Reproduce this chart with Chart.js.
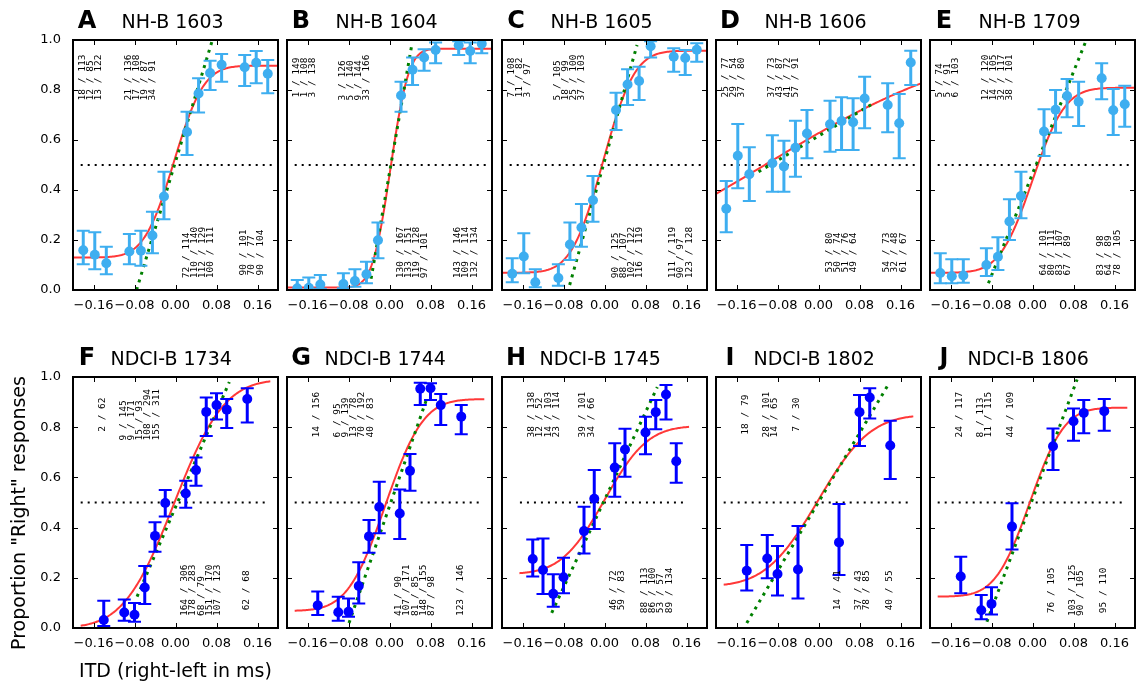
<!DOCTYPE html>
<html>
<head>
<meta charset="utf-8">
<script src="https://cdn.jsdelivr.net/npm/chart.js@4.4.0/dist/chart.umd.min.js"></script>
<style>
body { margin:0; background:#fff; width:1136px; height:686px; overflow:hidden; position:relative; }
canvas { position:absolute; }
</style>
</head>
<body>
<script>
// ITD values (ms) used by each listener group
var itdNH = [-0.18, -0.1575, -0.135, -0.09, -0.0675, -0.045, -0.0225, 0.0225, 0.045, 0.0675, 0.09, 0.135, 0.1575, 0.18];
var itdFG = [-0.14, -0.10, -0.08, -0.06, -0.04, -0.02, 0.02, 0.04, 0.06, 0.08, 0.10, 0.14];
var itdH = [-0.14, -0.12, -0.10, -0.08, -0.04, -0.02, 0.02, 0.04, 0.08, 0.10, 0.12, 0.14];
var itdIJ = [-0.14, -0.10, -0.08, -0.04, 0.04, 0.08, 0.10, 0.14];
var xTicks = [-0.16, -0.08, 0, 0.08, 0.16];
var yTicks = [0, 0.2, 0.4, 0.6, 0.8, 1.0];

// x extent of fitted curve and of the 50% line
var curveNH = [-0.2, 0.2], curveNDCI = [-0.185, 0.185], curveH = [-0.166, 0.165];
var midNH = [-0.185, 0.193], midNDCI = [-0.185, 0.18], midH = [-0.165, 0.162];

// A  NH-B 1603
var propA = [0.159, 0.141, 0.107, 0.154, 0.157, 0.218, 0.374, 0.632, 0.786, 0.868, 0.901, 0.891, 0.909, 0.865];
var hiA = [0.237, 0.231, 0.173, 0.224, 0.237, 0.313, 0.473, 0.713, 0.847, 0.917, 0.944, 0.94, 0.956, 0.92];
var loA = [0.103, 0.083, 0.063, 0.103, 0.097, 0.147, 0.283, 0.54, 0.71, 0.80, 0.833, 0.816, 0.827, 0.787];
var rightA = [18, 12, 13, 21, 17, 19, 34, 72, 110, 112, 100, 90, 70, 90];
var trialsA = [113, 85, 122, 136, 108, 87, 91, 114, 140, 129, 111, 101, 77, 104];
var groupsA = [3, 4, 4, 3];
var fitA = [0.13, 0.897, -0.003, 0.046];      // floor, ceiling, mu, sigma
var slopeA = [-0.076, 0.0, 0.072, 1.0];       // x0, y0, x1, y1

// B  NH-B 1604
var propB = [0.007, 0.009, 0.022, 0.024, 0.036, 0.063, 0.199, 0.778, 0.881, 0.930, 0.960, 0.979, 0.956, 0.985];
var hiB = [0.04, 0.05, 0.06, 0.067, 0.083, 0.113, 0.27, 0.833, 0.93, 0.963, 0.99, 0.995, 0.99, 1.0];
var loB = [0.0, 0.0, 0.005, 0.007, 0.013, 0.027, 0.127, 0.713, 0.82, 0.877, 0.907, 0.94, 0.907, 0.947];
var rightB = [1, 1, 3, 3, 5, 9, 33, 130, 133, 119, 97, 143, 109, 132];
var trialsB = [149, 108, 138, 126, 140, 144, 166, 167, 151, 128, 101, 146, 114, 134];
var groupsB = [3, 4, 4, 3];
var fitB = [0.01, 0.965, 0.002, 0.028];
var slopeB = [-0.036, 0.045, 0.043, 0.975];

// C  NH-B 1605
var propC = [0.065, 0.134, 0.031, 0.048, 0.182, 0.25, 0.359, 0.72, 0.822, 0.836, 0.975, 0.933, 0.928, 0.961];
var hiC = [0.127, 0.227, 0.083, 0.103, 0.27, 0.344, 0.456, 0.789, 0.883, 0.893, 0.995, 0.967, 0.96, 0.987];
var loC = [0.031, 0.067, 0.011, 0.017, 0.12, 0.173, 0.273, 0.64, 0.74, 0.76, 0.93, 0.873, 0.86, 0.913];
var rightC = [7, 11, 3, 5, 18, 25, 37, 90, 88, 102, 116, 111, 90, 123];
var trialsC = [108, 82, 97, 105, 99, 100, 103, 125, 107, 122, 119, 119, 97, 128];
var groupsC = [3, 4, 4, 3];
var fitC = [0.069, 0.957, -0.003, 0.0485];
var slopeC = [-0.068, 0.02, 0.0635, 0.98];

// D  NH-B 1606
var propD = [0.325, 0.537, 0.463, 0.507, 0.494, 0.569, 0.626, 0.663, 0.676, 0.671, 0.766, 0.740, 0.667, 0.910];
var hiD = [0.436, 0.664, 0.571, 0.619, 0.597, 0.677, 0.72, 0.757, 0.771, 0.767, 0.853, 0.827, 0.784, 0.957];
var loD = [0.231, 0.407, 0.356, 0.393, 0.393, 0.453, 0.527, 0.553, 0.56, 0.56, 0.647, 0.631, 0.527, 0.82];
var rightD = [25, 29, 37, 37, 43, 41, 57, 53, 50, 51, 49, 54, 32, 61];
var trialsD = [77, 54, 80, 73, 87, 72, 91, 80, 74, 76, 64, 73, 48, 67];
var groupsD = [3, 4, 4, 3];
var fitD = [0.0, 1.0, -0.105, 0.324];
var slopeD = [-0.117, 0.473, 0.104, 0.743];

// E  NH-B 1709
var propE = [0.068, 0.055, 0.058, 0.100, 0.133, 0.274, 0.376, 0.634, 0.721, 0.776, 0.753, 0.847, 0.719, 0.743];
var hiE = [0.147, 0.123, 0.123, 0.167, 0.211, 0.363, 0.473, 0.723, 0.80, 0.844, 0.833, 0.907, 0.804, 0.817];
var loE = [0.027, 0.027, 0.029, 0.056, 0.08, 0.20, 0.287, 0.536, 0.629, 0.691, 0.656, 0.763, 0.62, 0.653];
var rightE = [5, 5, 6, 12, 14, 32, 38, 64, 80, 83, 67, 83, 64, 78];
var trialsE = [74, 91, 103, 120, 105, 117, 101, 101, 111, 107, 89, 98, 89, 105];
var groupsE = [3, 4, 4, 3];
var fitE = [0.069, 0.809, 0.0, 0.05];
var slopeE = [-0.086, 0.027, 0.105, 1.0];

// F  NDCI-B 1734
var propF = [0.032, 0.062, 0.053, 0.161, 0.367, 0.498, 0.536, 0.629, 0.861, 0.888, 0.870, 0.912];
var hiF = [0.109, 0.114, 0.10, 0.247, 0.421, 0.55, 0.587, 0.679, 0.918, 0.935, 0.912, 0.955];
var loF = [0.008, 0.029, 0.025, 0.096, 0.304, 0.444, 0.479, 0.567, 0.765, 0.831, 0.797, 0.819];
var rightF = [2, 9, 9, 15, 108, 155, 164, 178, 68, 151, 107, 62];
var trialsF = [62, 145, 171, 93, 294, 311, 306, 283, 79, 170, 123, 68];
var groupsF = [1, 5, 5, 1];
var fitF = [0.0, 0.99, -0.003, 0.077];
var slopeF = [-0.075, 0.125, 0.105, 0.98];

// G  NDCI-B 1744
var propG = [0.090, 0.063, 0.065, 0.167, 0.365, 0.482, 0.456, 0.626, 0.953, 0.955, 0.888, 0.842];
var hiG = [0.145, 0.125, 0.118, 0.262, 0.43, 0.583, 0.552, 0.693, 0.977, 0.975, 0.932, 0.888];
var loG = [0.052, 0.029, 0.045, 0.098, 0.30, 0.377, 0.355, 0.547, 0.888, 0.908, 0.809, 0.772];
var rightG = [14, 6, 9, 13, 70, 40, 41, 107, 81, 148, 87, 123];
var trialsG = [156, 95, 139, 78, 192, 83, 90, 171, 85, 155, 98, 146];
var groupsG = [1, 5, 5, 1];
var fitG = [0.068, 0.912, -0.008, 0.058];
var slopeG = [-0.079, 0.02, 0.073, 0.915];

// H  NDCI-B 1745
var propH = [0.275, 0.231, 0.136, 0.202, 0.386, 0.515, 0.639, 0.711, 0.779, 0.860, 0.930, 0.664];
var hiH = [0.353, 0.357, 0.214, 0.28, 0.483, 0.629, 0.736, 0.794, 0.842, 0.908, 0.968, 0.736];
var loH = [0.205, 0.135, 0.085, 0.138, 0.297, 0.394, 0.523, 0.603, 0.692, 0.792, 0.831, 0.579];
var rightH = [38, 12, 14, 23, 39, 34, 46, 59, 88, 86, 53, 89];
var trialsH = [138, 52, 103, 114, 101, 66, 72, 83, 113, 100, 57, 134];
var groupsH = [4, 2, 2, 4];
var fitH = [0.215, 0.805, 0.0, 0.066];
var slopeH = [-0.103, 0.06, 0.103, 0.96];

// I  NDCI-B 1802
var propI = [0.228, 0.277, 0.215, 0.233, 0.341, 0.860, 0.918, 0.727];
var hiI = [0.331, 0.371, 0.327, 0.406, 0.494, 0.928, 0.955, 0.826];
var loI = [0.149, 0.198, 0.129, 0.118, 0.211, 0.725, 0.835, 0.594];
var rightI = [18, 28, 14, 7, 14, 37, 78, 40];
var trialsI = [79, 101, 65, 30, 41, 43, 85, 55];
var groupsI = [1, 2, 1, 1, 2, 1];
var fitI = [0.165, 0.85, -0.001, 0.08];
var slopeI = [-0.14, 0.02, 0.138, 0.976];

// J  NDCI-B 1806
var propJ = [0.205, 0.071, 0.096, 0.404, 0.724, 0.824, 0.857, 0.864];
var hiJ = [0.284, 0.131, 0.162, 0.497, 0.795, 0.875, 0.908, 0.912];
var loJ = [0.138, 0.035, 0.054, 0.313, 0.629, 0.746, 0.776, 0.786];
var rightJ = [24, 8, 11, 44, 76, 103, 90, 95];
var trialsJ = [117, 113, 115, 109, 105, 125, 105, 110];
var groupsJ = [1, 2, 1, 1, 2, 1];
var fitJ = [0.125, 0.878, -0.005, 0.0527];
var slopeJ = [-0.089, 0.025, 0.087, 0.99];

var skyBlue = 'rgb(62,174,240)';
var pureBlue = '#0000ff';

var panels = [
	{tag:'A', name:'NH-B 1603', row:0, col:0, x:itdNH, y:propA, lo:loA, hi:hiA, k:rightA, n:trialsA, groups:groupsA, fit:fitA, slope:slopeA, curve:curveNH, mid:midNH, color:skyBlue},
	{tag:'B', name:'NH-B 1604', row:0, col:1, x:itdNH, y:propB, lo:loB, hi:hiB, k:rightB, n:trialsB, groups:groupsB, fit:fitB, slope:slopeB, curve:curveNH, mid:midNH, color:skyBlue},
	{tag:'C', name:'NH-B 1605', row:0, col:2, x:itdNH, y:propC, lo:loC, hi:hiC, k:rightC, n:trialsC, groups:groupsC, fit:fitC, slope:slopeC, curve:curveNH, mid:midNH, color:skyBlue},
	{tag:'D', name:'NH-B 1606', row:0, col:3, x:itdNH, y:propD, lo:loD, hi:hiD, k:rightD, n:trialsD, groups:groupsD, fit:fitD, slope:slopeD, curve:curveNH, mid:midNH, color:skyBlue},
	{tag:'E', name:'NH-B 1709', row:0, col:4, x:itdNH, y:propE, lo:loE, hi:hiE, k:rightE, n:trialsE, groups:groupsE, fit:fitE, slope:slopeE, curve:curveNH, mid:midNH, color:skyBlue},
	{tag:'F', name:'NDCI-B 1734', row:1, col:0, x:itdFG, y:propF, lo:loF, hi:hiF, k:rightF, n:trialsF, groups:groupsF, fit:fitF, slope:slopeF, curve:curveNDCI, mid:midNDCI, color:pureBlue},
	{tag:'G', name:'NDCI-B 1744', row:1, col:1, x:itdFG, y:propG, lo:loG, hi:hiG, k:rightG, n:trialsG, groups:groupsG, fit:fitG, slope:slopeG, curve:curveNDCI, mid:midNDCI, color:pureBlue},
	{tag:'H', name:'NDCI-B 1745', row:1, col:2, x:itdH, y:propH, lo:loH, hi:hiH, k:rightH, n:trialsH, groups:groupsH, fit:fitH, slope:slopeH, curve:curveH, mid:midH, color:pureBlue},
	{tag:'I', name:'NDCI-B 1802', row:1, col:3, x:itdIJ, y:propI, lo:loI, hi:hiI, k:rightI, n:trialsI, groups:groupsI, fit:fitI, slope:slopeI, curve:curveNDCI, mid:midNDCI, color:pureBlue},
	{tag:'J', name:'NDCI-B 1806', row:1, col:4, x:itdIJ, y:propJ, lo:loJ, hi:hiJ, k:rightJ, n:trialsJ, groups:groupsJ, fit:fitJ, slope:slopeJ, curve:curveNDCI, mid:midNDCI, color:pureBlue}
];

// page layout
var colLeft = [73, 287, 502, 716, 930];
var rowTop = [40, 377];
var plotH = [250, 251];
var CW = 286, CH = 350;

function phi(z){
	var t = 1/(1 + 0.2316419*Math.abs(z));
	var d = 0.3989423*Math.exp(-z*z/2);
	var p = d*t*(0.3193815 + t*(-0.3565638 + t*(1.781478 + t*(-1.821256 + t*1.330274))));
	return z > 0 ? 1 - p : p;
}

function fitCurve(p){
	var pts = [];
	var f = p.fit;
	for(var i=0;i<=160;i++){
		var x = p.curve[0] + (p.curve[1]-p.curve[0])*i/160;
		pts.push({x:x, y:f[0] + (f[1]-f[0])*phi((x-f[2])/f[3])});
	}
	return pts;
}

function fmtX(v){
	if(Math.abs(v) < 1e-9) return '0.00';
	return (v < 0 ? '\u2212' : '') + Math.abs(v).toFixed(2);
}

var byCanvas = {};

function drawErrorBars(chart, p){
	var ctx = chart.ctx, xs = chart.scales.x, ys = chart.scales.y, a = chart.chartArea;
	ctx.save();
	ctx.beginPath();
	ctx.rect(a.left, a.top, a.right-a.left, a.bottom-a.top);
	ctx.clip();
	ctx.strokeStyle = p.color;
	for(var i=0;i<p.x.length;i++){
		var px = xs.getPixelForValue(p.x[i]);
		var t = ys.getPixelForValue(p.hi[i]);
		var b = ys.getPixelForValue(p.lo[i]);
		ctx.lineWidth = 3;
		ctx.beginPath(); ctx.moveTo(px, t); ctx.lineTo(px, b); ctx.stroke();
		ctx.lineWidth = 2;
		ctx.beginPath();
		ctx.moveTo(px-6.5, t); ctx.lineTo(px+6.5, t);
		ctx.moveTo(px-6.5, b); ctx.lineTo(px+6.5, b);
		ctx.stroke();
	}
	ctx.restore();
}

function drawCounts(chart, p){
	var ctx = chart.ctx, xs = chart.scales.x, ys = chart.scales.y;
	ctx.save();
	ctx.font = '9.5px "DejaVu Sans Mono"';
	ctx.fillStyle = '#000';
	var start = 0;
	p.groups.forEach(function(size){
		var lines = [];
		for(var j=0;j<size;j++) lines.push(p.k[start+j] + ' / ' + p.n[start+j]);
		var longest = 0;
		lines.forEach(function(s){ longest = Math.max(longest, ctx.measureText(s).width); });
		var upper = p.x[start] < 0;
		var base = ys.getPixelForValue(upper ? 0.85 : 0.15) + longest/2;
		var x0 = xs.getPixelForValue(p.x[start]) - 1;
		lines.forEach(function(s, j){
			ctx.save();
			ctx.translate(x0 + j*8.2, base);
			ctx.rotate(-Math.PI/2);
			ctx.textAlign = 'left';
			ctx.textBaseline = 'middle';
			ctx.fillText(s, 0, 0);
			ctx.restore();
		});
		start += size;
	});
	ctx.restore();
}

var panelDecor = {
	id: 'panelDecor',
	beforeDatasetDraw: function(chart, args){
		if(args.index === 0) drawErrorBars(chart, byCanvas[chart.canvas.id]);
	},
	afterDraw: function(chart){
		var p = byCanvas[chart.canvas.id];
		var ctx = chart.ctx, a = chart.chartArea, xs = chart.scales.x, ys = chart.scales.y;
		drawCounts(chart, p);
		ctx.save();
		// inward ticks
		ctx.strokeStyle = '#000';
		ctx.lineWidth = 1;
		ctx.beginPath();
		xTicks.forEach(function(v){
			var px = Math.round(xs.getPixelForValue(v)) + 0.5;
			ctx.moveTo(px, a.bottom); ctx.lineTo(px, a.bottom-5);
			ctx.moveTo(px, a.top); ctx.lineTo(px, a.top+5);
		});
		yTicks.forEach(function(v){
			var py = Math.round(ys.getPixelForValue(v)) + 0.5;
			ctx.moveTo(a.left, py); ctx.lineTo(a.left+5, py);
			ctx.moveTo(a.right, py); ctx.lineTo(a.right-5, py);
		});
		ctx.stroke();
		// frame
		ctx.lineWidth = 2;
		ctx.strokeRect(a.left, a.top, a.right-a.left, a.bottom-a.top);
		// title
		ctx.fillStyle = '#000';
		ctx.textBaseline = 'alphabetic';
		ctx.textAlign = 'center';
		ctx.font = 'bold 24px "DejaVu Sans"';
		ctx.fillText(p.tag, a.left + 14, a.top - 12);
		ctx.textAlign = 'left';
		ctx.font = '19px "DejaVu Sans"';
		ctx.fillText(p.name, a.left + (p.row === 0 ? 48.5 : 37.5), a.top - 12);
		// axis titles on panel F
		if(p.tag === 'F'){
			ctx.font = '19px "DejaVu Sans"';
			ctx.textAlign = 'center';
			ctx.fillText('ITD (right-left in ms)', a.left + 102.5, a.bottom + 49);
			ctx.save();
			ctx.translate(20, 176);
			ctx.rotate(-Math.PI/2);
			ctx.textBaseline = 'middle';
			ctx.fillText('Proportion "Right" responses', 0, 0);
			ctx.restore();
		}
		ctx.restore();
	}
};

panels.forEach(function(p){
	var cv = document.createElement('canvas');
	cv.id = 'panel' + p.tag;
	cv.width = CW; cv.height = CH;
	cv.style.left = (colLeft[p.col] - 73) + 'px';
	cv.style.top = (rowTop[p.row] - 40) + 'px';
	document.body.appendChild(cv);
	byCanvas[cv.id] = p;

	var pts = p.x.map(function(x, i){ return {x:x, y:p.y[i]}; });
	var slopePts = [{x:p.slope[0], y:p.slope[1]}, {x:p.slope[2], y:p.slope[3]}];
	var midPts = [{x:p.mid[0], y:0.5}, {x:p.mid[1], y:0.5}];
	var showY = p.col === 0;

	new Chart(cv, {
		type: 'scatter',
		data: {
			datasets: [
				{data: pts, pointRadius: 5, pointBackgroundColor: p.color, pointBorderColor: p.color, pointBorderWidth: 0, showLine: false},
				{data: slopePts, showLine: true, borderColor: '#008000', borderWidth: 3, borderDash: [3, 5], pointRadius: 0},
				{data: fitCurve(p), showLine: true, borderColor: '#ff3838', borderWidth: 2, pointRadius: 0, tension: 0},
				{data: midPts, showLine: true, borderColor: '#000', borderWidth: 2, borderDash: [2, 5], pointRadius: 0}
			]
		},
		options: {
			responsive: false,
			animation: false,
			devicePixelRatio: 1,
			layout: {padding: {left: 33, top: 40, right: 8, bottom: CH - 40 - plotH[p.row] - 22}},
			plugins: {legend: {display: false}, tooltip: {enabled: false}},
			scales: {
				x: {
					type: 'linear', min: -0.2, max: 0.2,
					grid: {display: false, drawTicks: false},
					border: {display: false},
					afterBuildTicks: function(s){ s.ticks = xTicks.map(function(v){ return {value: v}; }); },
					afterFit: function(s){ s.height = 22; },
					ticks: {padding: 8, color: '#000', autoSkip: false, maxRotation: 0,
						font: {family: 'DejaVu Sans', size: 13}, callback: fmtX}
				},
				y: {
					type: 'linear', min: 0, max: 1,
					grid: {display: false, drawTicks: false},
					border: {display: false},
					afterBuildTicks: function(s){ s.ticks = yTicks.map(function(v){ return {value: v}; }); },
					afterFit: function(s){ s.width = 40; },
					ticks: {display: showY, padding: 12, color: '#000',
						font: {family: 'DejaVu Sans', size: 13},
						callback: function(v){ return v.toFixed(1); }}
				}
			}
		},
		plugins: [panelDecor]
	});
});
</script>
</body>
</html>
